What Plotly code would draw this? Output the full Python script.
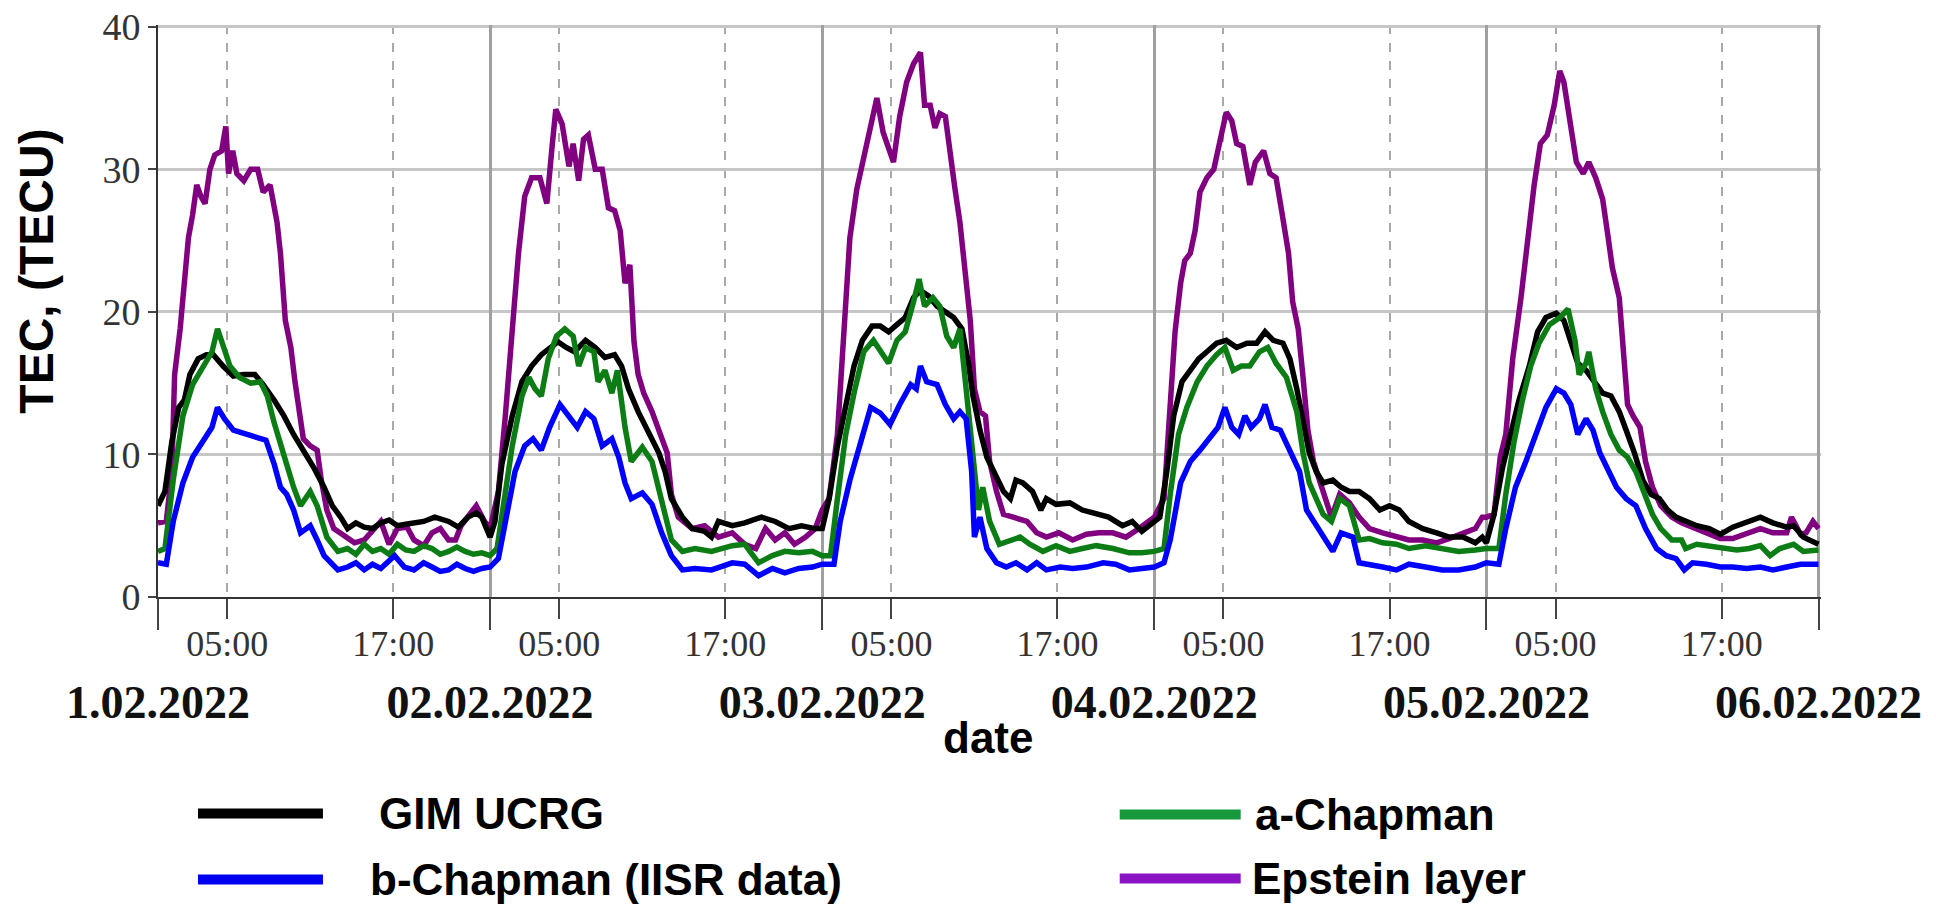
import plotly.graph_objects as go

# ---------------- data (hours since 01.02.2022 00:00, TEC in TECU) ----------------
t_gim = [0, 0.5, 1, 1.5, 1.9, 2.3, 2.9, 3.5, 4, 4.7, 5.45, 6.2, 7, 7.6, 8.4, 9.1, 9.8, 10.5, 11.3, 12, 12.6, 13.2, 13.7, 14.3, 14.9, 15.5, 16.1, 16.7, 17.3, 17.9, 18.5, 19.2, 20, 20.5, 21, 21.7, 22.4, 23, 23.4,
         24, 24.35, 24.85, 25.6, 26.3, 27, 27.7, 28.3, 28.9, 29.5, 30.1, 30.9, 31.6, 32.3, 33, 33.5, 34, 34.7, 35.4, 36.2, 36.65, 37.1, 37.9, 38.6, 39.5, 40, 40.5, 41.5, 42.4, 43.6, 44.6, 45.6, 46.5, 47.5,
         48, 48.5, 49.1, 49.7, 50.3, 50.9, 51.6, 52.2, 52.8, 53.4, 54, 54.6, 55.1, 55.7, 56.3, 56.9, 57.5, 58.1, 58.6, 58.9, 59.4, 59.9, 60.5, 61.1, 61.6, 62, 62.5, 63.2, 63.8, 64.2, 64.9, 65.9, 66.8, 67.8, 68.7, 69.7, 70.4, 71.1,
         72, 72.4, 72.9, 73.4, 74, 74.6, 75.2, 75.8, 76.5, 77.2, 77.95, 78.7, 79.4, 80, 80.6, 81.3, 81.8, 82.3, 82.75, 83.2, 83.7, 84.2, 84.9, 85.5, 86.1, 86.8, 87.55, 88.3, 89, 89.7, 90.4, 91.4, 92.4, 93.3, 94.3, 95.2, 95.7,
         96, 96.55, 97.15, 97.75, 98.35, 99.1, 99.7, 100.3, 101.05, 101.6, 102.1, 102.6, 103.2, 103.8, 104.4, 105, 105.6, 106.1, 106.7, 107.3, 107.9, 108.5, 109.1, 109.7, 110.4, 111.2, 112.1, 112.9, 113.8, 114.8, 115.8, 116.7, 117.7, 118.2, 118.9, 120]
tec_gim = [6.4, 7.4, 10.9, 13.3, 13.8, 15.6, 16.7, 17.0, 17.0, 16.2, 15.5, 15.6, 15.6, 14.9, 13.8, 12.7, 11.4, 10.3, 9.0, 7.7, 6.4, 5.6, 4.8, 5.2, 4.9, 4.8, 5.2, 5.4, 5.0, 5.1, 5.2, 5.3, 5.6, 5.4, 5.3, 4.9, 5.6, 5.9, 5.6,
           4.2, 5.3, 9.3, 12.7, 15.1, 16.2, 17.0, 17.5, 17.9, 17.5, 17.2, 18.0, 17.5, 16.8, 17.0, 16.2, 14.6, 13.0, 11.7, 10.1, 8.8, 6.9, 5.6, 4.8, 4.6, 4.2, 5.3, 5.0, 5.2, 5.6, 5.3, 4.8, 5.0, 4.8,
           4.8, 6.9, 10.6, 13.5, 16.2, 18.0, 19.0, 19.0, 18.6, 19.1, 19.6, 21.0, 21.5, 21.1, 20.4, 20.0, 19.6, 18.8, 16.2, 14.1, 11.7, 9.8, 8.5, 7.4, 6.9, 8.2, 8.0, 7.4, 6.1, 6.9, 6.5, 6.6, 6.1, 5.8, 5.6, 5.0, 5.3, 4.6,
           5.3, 5.6, 8.8, 12.7, 15.1, 15.9, 16.7, 17.2, 17.8, 18.0, 17.5, 17.8, 17.8, 18.6, 18.0, 17.8, 16.7, 14.6, 12.5, 10.1, 8.8, 8.0, 8.2, 7.7, 7.4, 7.4, 6.9, 6.1, 6.4, 6.1, 5.3, 4.8, 4.5, 4.2, 4.2, 3.8, 4.2,
           3.8, 5.8, 9.0, 11.4, 13.8, 16.2, 18.6, 19.6, 19.9, 19.4, 18.0, 16.4, 15.9, 15.1, 14.3, 14.1, 13.0, 11.7, 10.1, 8.2, 7.2, 6.9, 6.1, 5.6, 5.3, 5.0, 4.8, 4.4, 4.9, 5.3, 5.6, 5.2, 4.9, 5.0, 4.2, 3.7]

t_achap = [0, 0.5, 1.1, 1.8, 2.5, 3.3, 3.9, 4.3, 4.7, 5.2, 5.9, 6.7, 7.4, 7.9, 8.4, 8.85, 9.3, 9.8, 10.3, 11, 11.5, 12.2, 13, 13.7, 14.3, 14.9, 15.5, 16.1, 16.7, 17.3, 17.9, 18.5, 19.2, 19.8, 20.4, 21, 21.6, 22.2, 22.8, 23.4,
           24, 24.5, 25, 25.6, 26.3, 26.8, 27.25, 27.7, 28.2, 28.8, 29.4, 30, 30.4, 30.9, 31.5, 31.8, 32.3, 32.8, 33.2, 33.75, 34.2, 35, 35.7, 36.4, 37.1, 37.9, 38.8, 40, 41.5, 42.4, 43.4, 44.4, 45.3, 46.3, 47.3,
           48, 48.6, 49.1, 49.7, 50.3, 51, 51.7, 52.2, 52.8, 53.4, 54, 54.6, 55, 55.4, 56, 56.5, 57, 57.5, 57.95, 58.4, 58.9, 59.3, 59.6, 60.1, 60.8, 61.6, 62.3, 63, 63.95, 64.9, 65.9, 66.8, 67.8, 69, 70.2, 71.1,
           72, 72.7, 73.15, 73.75, 74.35, 75.1, 75.8, 76.5, 77.1, 77.7, 78.3, 78.9, 79.6, 80.2, 80.8, 81.55, 82.3, 82.75, 83.2, 83.7, 84.2, 84.8, 85.4, 86.1, 86.8, 87.55, 88.5, 89.5, 90.4, 91.6, 92.8, 94, 95.2,
           96, 96.9, 97.4, 98, 98.6, 99.2, 99.8, 100.55, 101.3, 101.9, 102.4, 102.7, 103.2, 103.4, 103.9, 104.4, 105, 105.6, 106.2, 106.8, 107.4, 108, 108.6, 109.4, 110.1, 110.4, 111.2, 112.1, 113.1, 114.1, 115, 115.8, 116.5, 117.2, 118.2, 118.9, 120]
tec_achap = [3.2, 3.4, 8.2, 12.7, 14.9, 16.2, 17.2, 18.8, 17.5, 16.2, 15.4, 15.0, 15.1, 14.1, 12.2, 10.6, 9.3, 7.7, 6.4, 7.4, 6.4, 4.2, 3.2, 3.4, 3.0, 3.7, 3.2, 3.4, 3.0, 3.7, 3.3, 3.2, 3.6, 3.4, 3.0, 3.2, 3.5, 3.2, 3.0, 3.1,
             2.9, 3.4, 6.6, 10.6, 14.1, 15.4, 14.6, 14.1, 16.7, 18.3, 18.8, 18.3, 16.2, 17.5, 17.2, 15.1, 15.9, 14.3, 15.9, 11.9, 9.5, 10.5, 9.5, 6.6, 4.0, 3.2, 3.4, 3.2, 3.6, 3.7, 2.4, 2.9, 3.2, 3.1, 3.2,
             2.9, 2.9, 6.9, 11.4, 14.3, 17.2, 18.0, 17.2, 16.4, 18.0, 18.6, 20.7, 22.3, 20.4, 21.0, 20.4, 18.3, 17.5, 18.8, 14.6, 10.1, 6.1, 7.7, 5.3, 3.7, 4.0, 4.2, 3.7, 3.2, 3.6, 3.2, 3.4, 3.6, 3.4, 3.1, 3.1,
             3.2, 3.4, 7.2, 11.4, 13.3, 15.1, 16.2, 17.0, 17.5, 15.9, 16.2, 16.2, 17.2, 17.5, 16.4, 15.4, 13.0, 10.1, 8.0, 6.9, 5.8, 5.3, 6.9, 6.4, 4.0, 4.1, 3.8, 3.7, 3.4, 3.6, 3.4, 3.2, 3.3,
             3.4, 3.4, 7.2, 10.9, 13.8, 16.2, 17.8, 19.1, 19.6, 20.2, 18.0, 15.6, 16.4, 17.2, 14.6, 13.0, 11.4, 10.3, 9.8, 8.8, 7.2, 5.8, 4.8, 4.0, 4.0, 3.4, 3.7, 3.6, 3.4, 3.3, 3.4, 3.6, 2.9, 3.4, 3.7, 3.2, 3.3]

t_bchap = [0, 0.6, 1.1, 1.8, 2.5, 3.3, 3.9, 4.3, 4.8, 5.45, 6.4, 7.2, 7.8, 8.4, 8.85, 9.3, 9.8, 10.3, 11, 11.5, 12, 13, 13.7, 14.3, 14.9, 15.5, 16.1, 17.1, 17.8, 18.5, 19.2, 19.8, 20.4, 21, 21.6, 22.2, 22.8, 23.4,
           24, 24.6, 25.1, 25.8, 26.5, 27.1, 27.7, 28.3, 29.05, 29.7, 30.3, 30.9, 31.5, 32.1, 32.8, 33.3, 33.75, 34.2, 35, 35.7, 36.4, 37.1, 37.9, 38.8, 40, 41.5, 42.4, 43.4, 44.4, 45.3, 46.3, 47.3,
           48, 48.85, 49.3, 50, 50.75, 51.5, 52.2, 52.9, 53.6, 54.4, 54.8, 55.1, 55.55, 56.3, 56.9, 57.5, 57.95, 58.4, 58.8, 59, 59.4, 59.9, 60.6, 61.3, 62, 62.8, 63.5, 64.2, 65.2, 66.1, 67.1, 68.3, 69.2, 70.2, 71.1,
           72, 72.7, 73.15, 73.9, 74.6, 75.3, 76, 76.6, 77.1, 77.6, 78.1, 78.55, 79, 79.6, 80, 80.5, 81.1, 81.8, 82.5, 83, 83.7, 84.3, 84.9, 85.5, 86.35, 86.8, 87.55, 88.5, 89.5, 90.4, 91.6, 92.8, 94, 95.2,
           96, 96.9, 97.4, 98.1, 98.85, 99.6, 100.3, 101.05, 101.6, 102.1, 102.6, 103.2, 103.7, 104.2, 104.8, 105.4, 106.1, 106.8, 107.5, 108.3, 109, 109.7, 110.3, 110.9, 111.9, 112.9, 113.8, 114.8, 115.8, 116.7, 117.7, 118.7, 120]
tec_bchap = [2.4, 2.3, 5.3, 8.0, 9.8, 11.1, 11.9, 13.3, 12.5, 11.7, 11.4, 11.1, 11.0, 9.3, 7.7, 7.2, 6.1, 4.5, 5.0, 4.0, 2.9, 1.9, 2.1, 2.4, 1.9, 2.3, 2.0, 2.9, 2.1, 1.9, 2.4, 2.1, 1.8, 1.9, 2.3, 2.0, 1.8, 2.0,
             2.1, 2.7, 5.3, 8.8, 10.6, 11.1, 10.3, 11.9, 13.5, 12.7, 11.9, 13.0, 12.5, 10.6, 11.1, 9.8, 8.0, 6.9, 7.3, 6.5, 4.5, 2.9, 1.9, 2.0, 1.9, 2.4, 2.3, 1.5, 2.0, 1.7, 2.0, 2.1,
             2.3, 2.3, 5.3, 8.2, 10.6, 13.3, 12.9, 12.1, 13.5, 14.9, 14.6, 16.2, 15.1, 14.9, 13.5, 12.5, 13.0, 12.5, 8.8, 4.2, 5.6, 3.4, 2.4, 2.1, 2.4, 1.9, 2.4, 1.9, 2.1, 2.0, 2.1, 2.4, 2.3, 1.9, 2.0,
             2.1, 2.4, 4.0, 8.0, 9.5, 10.3, 11.1, 11.9, 13.3, 11.9, 11.4, 12.7, 11.9, 12.5, 13.5, 11.9, 11.7, 10.3, 8.8, 6.1, 5.0, 4.2, 3.2, 4.5, 4.2, 2.4, 2.3, 2.1, 1.9, 2.3, 2.1, 1.9, 1.9, 2.1,
             2.4, 2.3, 4.8, 7.7, 9.5, 11.4, 13.3, 14.6, 14.3, 13.5, 11.4, 12.5, 11.7, 10.1, 8.8, 7.7, 6.9, 6.4, 4.8, 3.4, 2.9, 2.7, 1.9, 2.4, 2.3, 2.1, 2.1, 2.0, 2.1, 1.9, 2.1, 2.3, 2.3]

t_epstein = [0, 0.6, 1, 1.2, 1.6, 1.9, 2.2, 2.5, 2.8, 3.1, 3.4, 3.75, 4.1, 4.6, 4.9, 5.1, 5.4, 5.7, 6.2, 6.7, 7.2, 7.6, 8.1, 8.6, 8.85, 9.2, 9.6, 9.9, 10.3, 10.5, 11, 11.5, 11.8, 12.2, 12.7, 13.2, 14.2, 14.9, 15.5, 16.1, 16.7, 17.3, 18, 18.5, 19.2, 19.8, 20.4, 21, 21.5, 21.9, 23, 23.6,
             24, 24.6, 25.1, 25.6, 26.05, 26.5, 27, 27.6, 28.1, 28.5, 28.75, 29.2, 29.7, 30, 30.4, 30.75, 31.1, 31.6, 32.1, 32.55, 33, 33.4, 33.75, 34.1, 34.4, 34.7, 35.1, 35.7, 36.3, 36.8, 37.1, 37.6, 38.6, 39.5, 40.5, 41.5, 42.4, 43.2, 43.9, 44.6, 45.3, 46, 46.8, 47.5,
             48, 48.5, 49.1, 49.6, 50, 50.5, 51, 51.5, 51.95, 52.4, 53.15, 53.6, 54.1, 54.6, 55.1, 55.4, 55.8, 56.15, 56.5, 56.9, 57.2, 57.6, 57.95, 58.3, 58.7, 59, 59.4, 59.8, 60.1, 60.6, 61.1, 61.8, 62.8, 63.5, 64.2, 65.1, 66.1, 67.1, 68, 69, 69.95, 70.9, 71.6,
             72, 72.7, 73.15, 73.5, 73.9, 74.2, 74.6, 74.95, 75.3, 75.8, 76.3, 76.75, 77.2, 77.6, 77.95, 78.4, 78.9, 79.3, 79.9, 80.35, 80.8, 81.2, 81.4, 81.7, 82, 82.4, 82.75, 83.1, 83.5, 84, 84.4, 84.8, 85.4, 86.1, 86.8, 87.55, 88.5, 89.5, 90.4, 91.4, 92.4, 93.3, 94.3, 95.2, 95.7,
             96, 96.55, 97, 97.4, 97.9, 98.5, 99, 99.45, 99.9, 100.4, 100.9, 101.3, 101.6, 102, 102.5, 103, 103.4, 103.9, 104.4, 104.8, 105.1, 105.6, 106, 106.2, 106.6, 107.1, 107.5, 108, 108.6, 109.4, 110.1, 110.9, 111.9, 112.9, 113.8, 114.8, 115.8, 116.7, 117.7, 118.05, 118.7, 119.1, 119.6, 120]
tec_epstein = [5.2, 5.3, 8.8, 15.6, 18.8, 22.0, 25.2, 26.8, 28.9, 28.1, 27.6, 30.0, 31.0, 31.3, 33.0, 29.7, 31.3, 29.7, 29.2, 30.0, 30.0, 28.4, 28.9, 26.3, 24.1, 19.4, 17.5, 15.1, 11.9, 11.1, 10.6, 10.3, 8.2, 6.1, 4.8, 4.5, 3.8, 4.0, 4.6, 5.3, 3.7, 4.8, 4.9, 4.0, 3.6, 4.5, 4.8, 4.0, 4.0, 5.0, 6.4, 5.3,
               4.8, 7.4, 12.7, 19.4, 24.1, 28.1, 29.4, 29.4, 27.6, 31.8, 34.2, 33.2, 30.2, 31.8, 29.2, 32.1, 32.4, 30.0, 30.0, 27.3, 27.1, 25.7, 22.0, 23.3, 17.9, 15.6, 14.3, 13.0, 11.4, 10.1, 7.2, 5.6, 4.8, 5.0, 4.2, 4.5, 3.7, 3.4, 4.8, 4.0, 4.5, 3.7, 4.2, 4.8,
               6.1, 6.9, 11.4, 18.6, 25.2, 28.6, 30.8, 33.2, 35.0, 32.6, 30.5, 33.7, 36.1, 37.4, 38.2, 34.5, 34.5, 32.9, 33.9, 33.7, 31.3, 28.6, 26.3, 23.1, 19.4, 14.6, 13.0, 12.7, 9.5, 7.4, 5.8, 5.6, 5.3, 4.5, 4.2, 4.5, 4.0, 4.4, 4.5, 4.5, 4.2, 4.8, 5.3,
               5.6, 6.9, 14.1, 18.6, 22.0, 23.6, 24.1, 25.7, 28.4, 29.4, 30.0, 31.8, 34.0, 33.4, 31.8, 31.6, 28.9, 30.5, 31.3, 29.7, 29.4, 27.1, 25.7, 24.1, 20.7, 18.8, 15.4, 11.7, 9.5, 8.0, 6.6, 5.6, 7.2, 6.6, 5.6, 4.8, 4.5, 4.2, 4.0, 4.0, 3.8, 4.1, 4.5, 4.8, 5.6,
               5.6, 5.8, 9.8, 11.4, 16.7, 21.0, 25.2, 28.9, 31.8, 32.4, 34.5, 36.9, 36.1, 33.7, 30.5, 29.7, 30.5, 29.4, 27.9, 25.2, 23.1, 21.0, 16.7, 13.5, 12.7, 11.9, 9.5, 7.7, 6.4, 5.6, 5.2, 4.9, 4.5, 4.1, 4.1, 4.4, 4.8, 4.5, 4.5, 5.6, 4.4, 4.5, 5.3, 4.8]

series_names = ["GIM UCRG", "a-Chapman", "b-Chapman (IISR data)", "Epstein layer"]
series_colors = ["#000000", "#0b7d14", "#0000ff", "#800080"]
legend_colors = ["#000000", "#15993a", "#0000f0", "#8a14c4"]

hour_ticks = [5, 17, 29, 41, 53, 65, 77, 89, 101, 113]
hour_labels = ["05:00", "17:00"] * 5
day_ticks = [0, 24, 48, 72, 96, 120]
day_labels = ["1.02.2022", "02.02.2022", "03.02.2022", "04.02.2022", "05.02.2022", "06.02.2022"]
tec_ticks = [0, 10, 20, 30, 40]

# ---------------- geometry (screen pixels) ----------------
W, H = 1936, 908
X0, X1 = 158, 1819          # pixel of 0 h and of 120 h
Y0, Y40 = 597.5, 27         # pixel of 0 and of 40 TECU
x_hi = day_ticks[-1] * 1.0015   # tiny headroom so the edge grid lines are drawn
y_hi = tec_ticks[-1] * 1.003
sx = (X1 - X0) / day_ticks[-1]
sy = (Y0 - Y40) / tec_ticks[-1]
L = X0
R = W - (X0 + sx * x_hi)
B = H - Y0
T = Y0 - sy * y_hi
pw, ph = W - L - R, H - T - B


def px(x):
    return (x - L) / pw


def py(y):
    return (H - B - y) / ph


fig = go.Figure()
series = {
    "GIM UCRG": (t_gim, tec_gim),
    "a-Chapman": (t_achap, tec_achap),
    "b-Chapman (IISR data)": (t_bchap, tec_bchap),
    "Epstein layer": (t_epstein, tec_epstein),
}
draw_order = ["Epstein layer", "GIM UCRG", "a-Chapman", "b-Chapman (IISR data)"]
for nm in draw_order:
    t, v = series[nm]
    fig.add_trace(go.Scatter(x=t, y=v, mode="lines", name=nm,
                             line=dict(color=series_colors[series_names.index(nm)], width=5.5),
                             showlegend=False))
# carrier for the secondary (date) axis
fig.add_trace(go.Scatter(x=day_ticks, y=[None] * len(day_ticks), xaxis="x2", yaxis="y",
                         mode="lines", showlegend=False, hoverinfo="skip"))

serif = "Liberation Serif, Times New Roman, serif"
sans = "Liberation Sans, Arial, sans-serif"

fig.update_layout(
    width=W, height=H, autosize=False,
    margin=dict(l=L, r=R, t=T, b=B, pad=0),
    paper_bgcolor="white", plot_bgcolor="white",
    xaxis=dict(range=[0, x_hi], tickmode="array", tickvals=hour_ticks, ticktext=hour_labels,
               showgrid=True, gridcolor="#a9a9a9", gridwidth=1.5, griddash="dash",
               ticks="outside", ticklen=20, tickwidth=2, tickcolor="#444",
               showline=True, linecolor="#333", linewidth=2, zeroline=False, automargin=False,
               ticklabeloverflow="allow",
               tickfont=dict(family=serif, size=36, color="#333"), ticklabelstandoff=-6),
    xaxis2=dict(range=[0, x_hi], overlaying="x", anchor="y", side="bottom",
                tickmode="array", tickvals=day_ticks, ticktext=day_labels,
                showgrid=True, gridcolor="#a0a0a0", gridwidth=3,
                ticks="outside", ticklen=32, tickwidth=2, tickcolor="#444",
                showline=False, zeroline=False, automargin=False, ticklabeloverflow="allow",
                tickfont=dict(family=serif, size=46, color="#111", weight="bold"),
                ticklabelstandoff=33),
    yaxis=dict(range=[0, y_hi], tickmode="array", tickvals=tec_ticks,
               showgrid=True, gridcolor="#c6c6c6", gridwidth=2.5,
               ticks="outside", ticklen=8, tickwidth=2, tickcolor="#444",
               showline=True, linecolor="#333", linewidth=2, zeroline=False, automargin=False,
               ticklabeloverflow="allow",
               tickfont=dict(family=serif, size=38, color="#333")),
)

annotations = [
    dict(text="TEC, (TECU)", textangle=-90, x=px(37), y=py(272), xref="paper", yref="paper",
         xanchor="center", yanchor="middle", showarrow=False,
         font=dict(family=sans, size=48, color="black", weight="bold")),
    dict(text="date", x=px(988), y=py(738), xref="paper", yref="paper",
         xanchor="center", yanchor="middle", showarrow=False,
         font=dict(family=sans, size=44, color="black", weight="bold")),
]

# manual legend (two columns, long line samples as in the original)
legend_pos = [(198, 323, 814, 377), (1120, 1241, 815, 1253), (198, 323, 880, 368), (1120, 1241, 879, 1250)]
shapes = []
for nm, col, (x0, x1, yy, tx) in zip(series_names, legend_colors, legend_pos):
    shapes.append(dict(type="line", xref="paper", yref="paper", x0=px(x0), x1=px(x1), y0=py(yy), y1=py(yy),
                       line=dict(color=col, width=10)))
    annotations.append(dict(text=nm, x=px(tx), y=py(yy), xref="paper", yref="paper", xanchor="left",
                            yanchor="middle", showarrow=False,
                            font=dict(family=sans, size=44, color="black", weight="bold")))

fig.update_layout(annotations=annotations, shapes=shapes)
# remove the default 8px page margin so the figure fills the window exactly
fig.write_html("out.html", config={"displayModeBar": False},
               post_script="document.body.style.margin='0px';")
